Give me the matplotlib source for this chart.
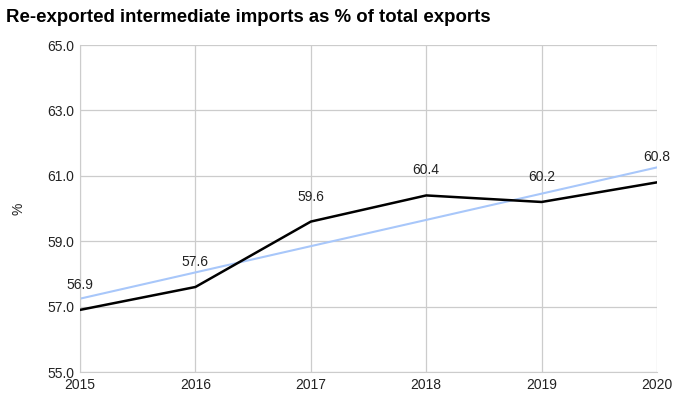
import numpy as np
import matplotlib.pyplot as plt

plt.rcParams['font.family'] = ['Liberation Sans', 'DejaVu Sans']

years = [2015, 2016, 2017, 2018, 2019, 2020]
share = [56.9, 57.6, 59.6, 60.4, 60.2, 60.8]
y_ticks = [55.0, 57.0, 59.0, 61.0, 63.0, 65.0]

fig = plt.figure(figsize=(6.91, 3.98), dpi=100)
ax = fig.add_axes([0.1158, 0.0653, 0.835, 0.8216])

# linear trendline over the series
slope, intercept = np.polyfit(years, share, 1)
trend = [slope * x + intercept for x in years]
ax.plot(years, trend, color='#a8c7fa', lw=1.5, zorder=2)
ax.plot(years, share, color='black', lw=1.8, zorder=3)

for x, v in zip(years, share):
    ax.annotate(f'{v:.1f}', (x, v), xytext=(0, 13), textcoords='offset points',
                ha='center', va='bottom', fontsize=10, color='#222222')

ax.set_xlim(years[0], years[-1])
ax.set_ylim(y_ticks[0], y_ticks[-1])
ax.set_xticks(years)
ax.set_yticks(y_ticks)
ax.set_yticklabels([f'{t:.1f}' for t in y_ticks])
ax.grid(True, color='#cccccc', lw=0.9)
ax.set_axisbelow(True)
for s in ax.spines.values():
    s.set_color('#cccccc')
ax.spines['top'].set_visible(False)
ax.spines['right'].set_visible(False)
ax.tick_params(length=0, labelsize=10, colors='#222222', pad=4)
ax.set_ylabel('%', fontsize=10, color='#222222', labelpad=16)

fig.text(0.008, 0.955, 'Re-exported intermediate imports as % of total exports',
         fontsize=13.4, fontweight='bold', ha='left', va='center')

fig.savefig('out.png', dpi=100)
